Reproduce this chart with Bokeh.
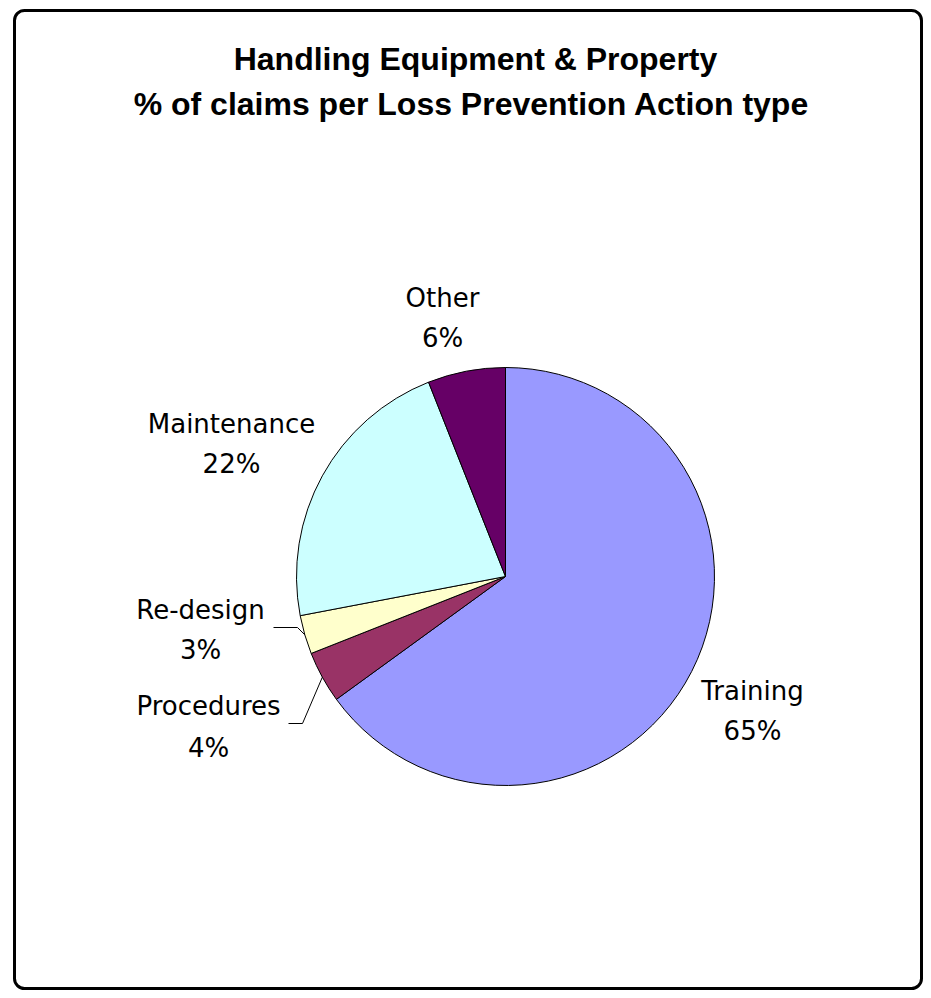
import math
from bokeh.plotting import figure
from bokeh.models import Range1d, ColumnDataSource
from bokeh.core.properties import value
from bokeh.embed import file_html
from bokeh.resources import INLINE

# ---- data ----
categories = ["Training", "Procedures", "Re-design", "Maintenance", "Other"]
percents = [65, 4, 3, 22, 6]
colors = ["#9999FF", "#993366", "#FFFFCC", "#CCFFFF", "#660066"]
title_lines = ["Handling Equipment & Property", "% of claims per Loss Prevention Action type"]

# ---- layout (screen pixel coords; data y = H - screen_y) ----
W, H = 923, 990
def py(y):
    return H - y

CX, CY, R = 505, 576, 209

p = figure(width=W, height=H, output_backend="svg", toolbar_location=None,
           x_range=Range1d(0, W), y_range=Range1d(0, H),
           min_border=0, background_fill_color="white", border_fill_color="white")
p.axis.visible = False
p.grid.visible = False
p.outline_line_color = None

# frame
p.quad(left=[14], right=[921], top=[py(10)], bottom=[py(988)], fill_color=None,
       line_color="black", line_width=3, border_radius=10)

# wedges
total = sum(percents)
starts, ends, mids = [], [], []
cum = 0.0
for v in percents:
    a0 = math.pi / 2 - 2 * math.pi * cum / total
    cum += v
    a1 = math.pi / 2 - 2 * math.pi * cum / total
    starts.append(a0)
    ends.append(a1)
    mids.append((a0 + a1) / 2)

src = ColumnDataSource(dict(cat=categories, start=starts, end=ends, color=colors,
                            x=[CX] * len(categories), y=[py(CY)] * len(categories)))
p.wedge(x="x", y="y", radius=R, radius_units="screen", start_angle="start", end_angle="end",
        direction="clock", fill_color="color", line_color="black", line_width=1, source=src)

# labels
label_pos = {
    "Training": (752, 690, 730),
    "Procedures": (208, 705, 747),
    "Re-design": (200, 609, 649),
    "Maintenance": (231, 423, 463),
    "Other": (442, 297, 337),
}
lx, ly1, ly2, names, pcts = [], [], [], [], []
for c, v in zip(categories, percents):
    x, y1, y2 = label_pos[c]
    lx.append(x); ly1.append(py(y1)); ly2.append(py(y2))
    names.append(c); pcts.append(f"{v}%")

p.text(x=lx, y=ly1, text=names, text_font=value("DejaVu Sans"), text_font_size="26px",
       text_align="center", text_baseline="middle", text_color="black")
p.text(x=lx, y=ly2, text=pcts, text_font=value("DejaVu Sans"), text_font_size="26px",
       text_align="center", text_baseline="middle", text_color="black")

# leader lines for small slices
leaders = {"Re-design": [(273, 627), (297, 627)], "Procedures": [(288, 723), (302, 723)]}
for c, pts in leaders.items():
    i = categories.index(c)
    ex = CX + R * math.cos(mids[i])
    ey = py(CY) + R * math.sin(mids[i])
    xs = [pt[0] for pt in pts] + [ex]
    ys = [py(pt[1]) for pt in pts] + [ey]
    p.line(xs, ys, line_color="black", line_width=1)

# title
p.text(x=[475, 471], y=[py(58), py(103)], text=title_lines, text_font=value("Liberation Sans"),
       text_font_size="32px", text_font_style="bold", text_align="center",
       text_baseline="middle", text_color="black")

open("out.html", "w").write(file_html(p, INLINE))
